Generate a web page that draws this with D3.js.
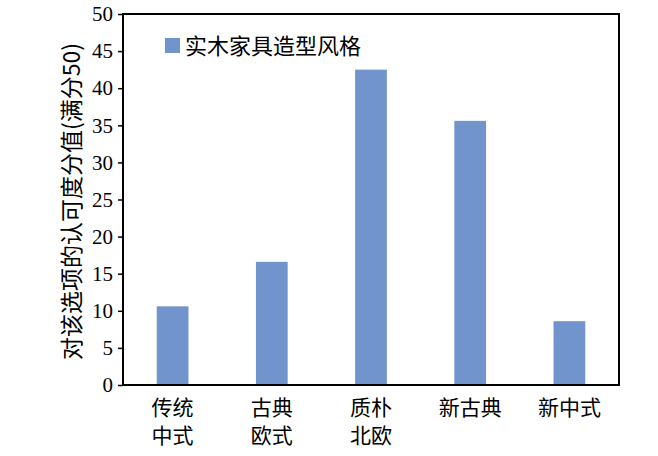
<!DOCTYPE html>
<html><head><meta charset="utf-8">
<script src="https://cdn.jsdelivr.net/npm/d3@7"></script>
<style>body{margin:0;background:#fff}</style>
</head><body>
<svg id="c" width="658" height="456"></svg>
<script>
const categories = [["传统","中式"],["古典","欧式"],["质朴","北欧"],["新古典"],["新中式"]];
const values = [10.6, 16.6, 42.5, 35.6, 8.6];
const yTicks = [0,5,10,15,20,25,30,35,40,45,50];
const seriesName = "实木家具造型风格";
const yTitle = "对该选项的认可度分值(满分50)";

const svg = d3.select("#c");
const m = {l:123, t:14, r:39, b:71};
const W = 658 - m.l - m.r, H = 456 - m.t - m.b;
const g = svg.append("g").attr("transform",`translate(${m.l},${m.t})`);
const x = d3.scaleBand().domain(d3.range(categories.length)).range([0,W]).paddingInner(0.68).paddingOuter(0.34);
const y = d3.scaleLinear().domain([0,50]).range([H,0]);
const cjk = "'Noto Sans CJK SC', sans-serif";

g.selectAll("rect.bar").data(values).join("rect").attr("class","bar")
  .attr("x",(d,i)=>x(i)).attr("width",x.bandwidth())
  .attr("y",d=>y(d)).attr("height",d=>H-y(d)).attr("fill","#7094cb");

const ya = g.append("g").call(d3.axisLeft(y).tickValues(yTicks).tickSize(5).tickPadding(5));
ya.select(".domain").remove();
ya.selectAll("line").attr("stroke","#000").attr("stroke-width",1.5);
ya.selectAll("text").attr("font-family","'Liberation Serif', serif").attr("font-size",21).attr("fill","#000");

g.append("rect").attr("x",0).attr("y",0).attr("width",W).attr("height",H)
  .attr("fill","none").attr("stroke","#000").attr("stroke-width",2);

const xl = g.append("g").attr("transform",`translate(0,${H})`);
categories.forEach((lines,i)=>{
  const t = xl.append("text").attr("text-anchor","middle").attr("font-family",cjk).attr("font-size",21).attr("fill","#000");
  lines.forEach((s,j)=>t.append("tspan").attr("x",x(i)+x.bandwidth()/2).attr("y",30+j*28).text(s));
});

svg.append("text").attr("transform",`translate(80,${m.t+H/2+2}) rotate(-90)`)
  .attr("text-anchor","middle").attr("font-family",cjk).attr("font-size",23).attr("fill","#000").text(yTitle);

const lg = svg.append("g");
lg.append("rect").attr("x",165).attr("y",38).attr("width",15).attr("height",15).attr("fill","#7094cb");
lg.append("text").attr("x",185).attr("y",54).attr("font-family",cjk).attr("font-size",22).attr("fill","#000").text(seriesName);
</script>
</body></html>
